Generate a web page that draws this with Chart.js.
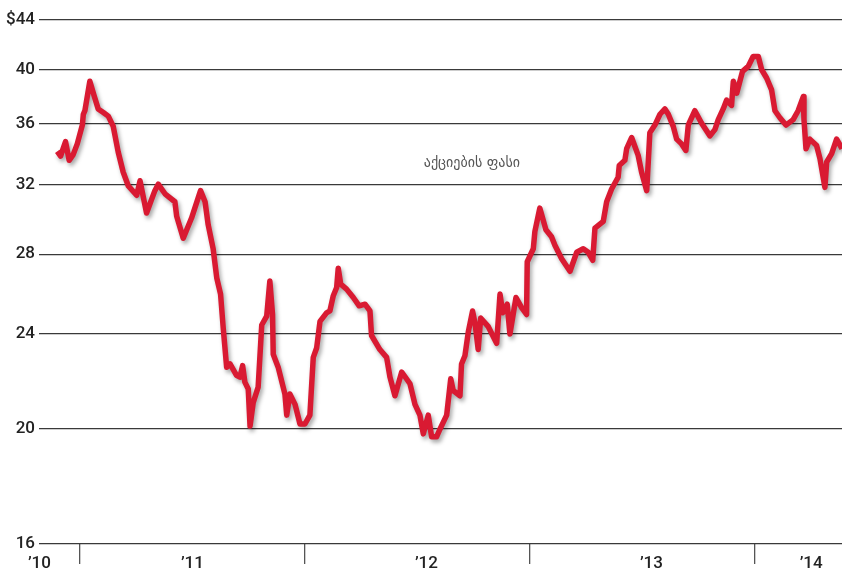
<!DOCTYPE html>
<html lang="ka">
<head>
    <meta charset="UTF-8">
    <title>აქციების ფასი</title>
    <script src="https://cdn.jsdelivr.net/npm/chart.js@4.4.1/dist/chart.umd.min.js"></script>
    <style>
        body {
            margin: 0;
            background: #fff;
        }

        #wrap {
            width: 842px;
            height: 572px;
        }
    </style>
</head>
<body>
    <div id="wrap">
        <canvas id="priceChart" width="842" height="572"></canvas>
    </div>
    <script>
        // time in decimal years
        const years = [
            2010.899, 2010.914, 2010.936, 2010.952, 2010.970, 2010.988, 2011.011, 2011.015, 2011.022, 2011.044,
            2011.062, 2011.081, 2011.104, 2011.126, 2011.148, 2011.170, 2011.192, 2011.215, 2011.252, 2011.267,
            2011.296, 2011.333, 2011.348, 2011.378, 2011.422, 2011.430, 2011.459, 2011.496, 2011.536, 2011.556,
            2011.570, 2011.592, 2011.608, 2011.625, 2011.637, 2011.652, 2011.667, 2011.696, 2011.711, 2011.723,
            2011.733, 2011.748, 2011.756, 2011.770, 2011.792, 2011.808, 2011.830, 2011.844, 2011.856, 2011.859,
            2011.881, 2011.911, 2011.919, 2011.933, 2011.956, 2011.978, 2012.000, 2012.022, 2012.037, 2012.052,
            2012.067, 2012.096, 2012.111, 2012.126, 2012.141, 2012.148, 2012.159, 2012.185, 2012.215, 2012.241,
            2012.267, 2012.289, 2012.296, 2012.333, 2012.363, 2012.378, 2012.400, 2012.430, 2012.467, 2012.489,
            2012.511, 2012.526, 2012.548, 2012.563, 2012.585, 2012.600, 2012.630, 2012.648, 2012.659, 2012.689,
            2012.696, 2012.711, 2012.726, 2012.745, 2012.756, 2012.770, 2012.781, 2012.815, 2012.852, 2012.867,
            2012.879, 2012.899, 2012.911, 2012.938, 2012.963, 2012.985, 2012.988, 2013.015, 2013.022, 2013.044,
            2013.071, 2013.096, 2013.111, 2013.141, 2013.178, 2013.208, 2013.237, 2013.259, 2013.279, 2013.289,
            2013.326, 2013.341, 2013.363, 2013.392, 2013.397, 2013.422, 2013.430, 2013.452, 2013.481, 2013.496,
            2013.519, 2013.533, 2013.556, 2013.578, 2013.600, 2013.615, 2013.637, 2013.652, 2013.674, 2013.693,
            2013.704, 2013.733, 2013.763, 2013.800, 2013.822, 2013.837, 2013.859, 2013.874, 2013.896, 2013.904,
            2013.919, 2013.945, 2013.970, 2013.992, 2014.015, 2014.030, 2014.052, 2014.074, 2014.089, 2014.111,
            2014.138, 2014.170, 2014.192, 2014.215, 2014.218, 2014.227, 2014.244, 2014.274, 2014.289, 2014.311,
            2014.319, 2014.341, 2014.363, 2014.387
        ];

        // share price, $
        const prices = [
            34.14, 33.84, 34.79, 33.56, 33.93, 34.64, 35.94, 36.68, 36.93, 39.09,
            38.07, 37.06, 36.81, 36.55, 35.83, 34.10, 32.81, 31.94, 31.37, 32.26,
            30.31, 31.65, 32.05, 31.46, 30.98, 30.12, 28.87, 30.02, 31.65, 30.98,
            29.63, 28.29, 26.75, 25.92, 24.25, 22.51, 22.65, 22.16, 22.08, 22.58,
            21.87, 21.58, 20.09, 21.02, 21.66, 24.42, 24.84, 26.59, 24.92, 23.08,
            22.51, 21.37, 20.52, 21.37, 20.95, 20.17, 20.17, 20.52, 22.94, 23.36,
            24.59, 25.00, 25.09, 25.84, 26.25, 27.25, 26.42, 26.17, 25.75, 25.34,
            25.42, 25.09, 23.93, 23.29, 22.94, 22.08, 21.30, 22.30, 21.80, 20.95,
            20.52, 19.79, 20.52, 19.68, 19.68, 19.97, 20.52, 22.01, 21.52, 21.30,
            22.65, 23.01, 24.09, 25.09, 24.50, 23.29, 24.75, 24.34, 23.57, 25.92,
            25.00, 25.42, 24.00, 25.75, 25.25, 24.92, 27.59, 28.29, 29.25, 30.60,
            29.35, 28.96, 28.48, 27.75, 27.09, 28.10, 28.29, 28.10, 27.67, 29.44,
            29.83, 30.98, 31.75, 32.48, 33.23, 33.56, 34.32, 35.07, 33.88, 32.81,
            31.65, 35.40, 35.94, 36.68, 37.06, 36.68, 35.83, 34.96, 34.64, 34.21,
            35.94, 36.93, 36.05, 35.18, 35.61, 36.30, 37.06, 37.69, 37.31, 39.09,
            38.20, 39.85, 40.23, 41.01, 41.01, 39.97, 39.34, 38.45, 36.93, 36.43,
            35.92, 36.30, 36.93, 37.95, 36.30, 34.32, 34.96, 34.53, 33.67, 31.85,
            33.45, 33.99, 34.96, 34.32
        ];

        const priceTicks = [16, 20, 24, 28, 32, 36, 40, 44];
        const yearBreaks = [2011, 2012, 2013, 2014];
        const yearLabels = ['’10', '’11', '’12', '’13', '’14'];
        const yearLabelPos = [2010.82, 2011.5, 2012.54, 2013.54, 2014.25];
        const seriesLabel = 'აქციების ფასი';

        const tickFont = { family: 'Roboto', size: 17, weight: '500' };

        // soft grey shadow under the red line
        const lineShadow = {
            id: 'lineShadow',
            beforeDatasetsDraw(chart) {
                const ctx = chart.ctx;
                ctx.save();
                ctx.shadowColor = 'rgba(0, 0, 0, 0.35)';
                ctx.shadowBlur = 4;
                ctx.shadowOffsetX = 2;
                ctx.shadowOffsetY = 3;
            },
            afterDatasetsDraw(chart) {
                chart.ctx.restore();
            }
        };

        // series caption in the middle of the plot
        const caption = {
            id: 'caption',
            afterDraw(chart) {
                const ctx = chart.ctx;
                const x = chart.scales.x.getPixelForValue(2012.742);
                const y = chart.scales.y.getPixelForValue(33.35);
                ctx.save();
                ctx.font = '14px "DejaVu Sans"';
                ctx.fillStyle = '#555';
                ctx.textAlign = 'center';
                ctx.textBaseline = 'middle';
                ctx.fillText(seriesLabel, x, y);
                ctx.restore();
            }
        };

        const ctxPrice = document.getElementById('priceChart').getContext('2d');

        new Chart(ctxPrice, {
            type: 'line',
            data: {
                datasets: [{
                    label: seriesLabel,
                    data: years.map((t, i) => ({ x: t, y: prices[i] })),
                    borderColor: '#d91a32',
                    borderWidth: 5.5,
                    borderJoinStyle: 'round',
                    pointRadius: 0,
                    tension: 0,
                    fill: false
                }]
            },
            options: {
                responsive: false,
                animation: false,
                layout: {
                    padding: { top: 20, right: 0, bottom: 0, left: 0 }
                },
                plugins: {
                    legend: { display: false },
                    tooltip: { enabled: false }
                },
                scales: {
                    x: {
                        type: 'linear',
                        min: 2010.818,
                        max: 2014.387,
                        afterBuildTicks: (scale) => {
                            scale.ticks = [...yearBreaks, ...yearLabelPos]
                                .sort((a, b) => a - b)
                                .map(v => ({ value: v }));
                        },
                        afterFit: (scale) => { scale.height = 28; },
                        border: { display: false },
                        grid: {
                            drawOnChartArea: false,
                            drawTicks: true,
                            tickLength: 20,
                            lineWidth: 1.3,
                            color: (c) => (c.tick && yearBreaks.includes(c.tick.value)) ? '#555' : 'rgba(0,0,0,0)'
                        },
                        ticks: {
                            autoSkip: false,
                            maxRotation: 0,
                            minRotation: 0,
                            padding: -10,
                            color: '#222',
                            font: tickFont,
                            callback: (v) => {
                                const i = yearLabelPos.indexOf(v);
                                return i >= 0 ? yearLabels[i] : '';
                            }
                        }
                    },
                    y: {
                        type: 'logarithmic',
                        min: 16,
                        max: 44,
                        afterBuildTicks: (scale) => {
                            scale.ticks = priceTicks.map(v => ({ value: v }));
                        },
                        afterFit: (scale) => { scale.width = 39; },
                        border: { display: false },
                        grid: {
                            color: '#3a3a3a',
                            lineWidth: 1.2,
                            drawTicks: false
                        },
                        ticks: {
                            padding: 4,
                            color: '#222',
                            font: tickFont,
                            callback: (v) => (v === 44 ? '$44' : String(v))
                        }
                    }
                }
            },
            plugins: [lineShadow, caption]
        });
    </script>
</body>
</html>
